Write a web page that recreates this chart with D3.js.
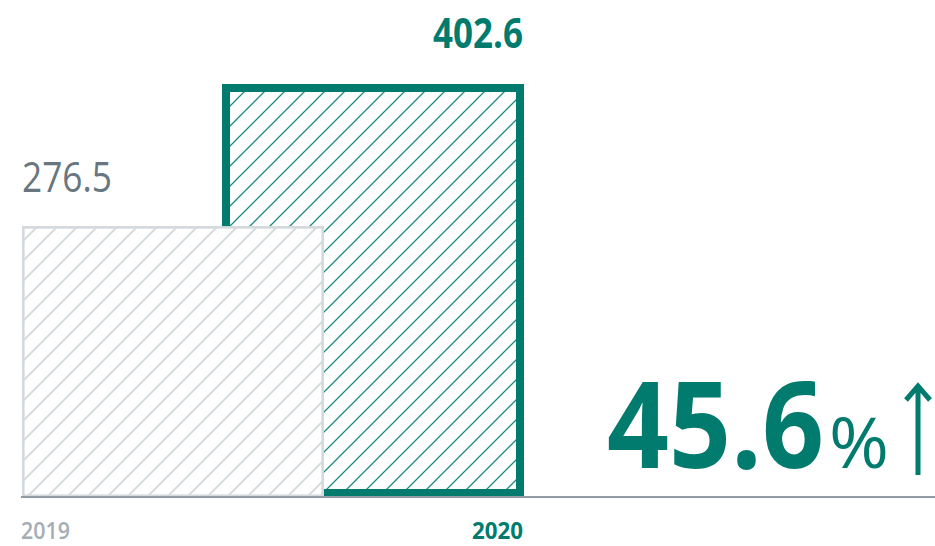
<!DOCTYPE html>
<html>
<head>
<meta charset="utf-8">
<script src="https://cdn.jsdelivr.net/npm/d3@7/dist/d3.min.js"></script>
<style>
  html, body { margin: 0; padding: 0; background: #ffffff; }
  svg { display: block; }
  text { font-family: "Open Sans", "Noto Sans", sans-serif; }
</style>
</head>
<body>
<svg id="chart" width="935" height="546"></svg>
<script>
// Revenue comparison, two years
const years = ["2019", "2020"];
const values = [276.5, 402.6];
const valueLabels = ["276.5", "402.6"];
const growthLabel = "45.6";
const growthUnit = "%";

const TEAL = "#007b6e";
const GREY_TEXT = "#68777f";
const GREY_YEAR = "#a4aeb4";
const GREY_BAR = "#d3d9dc";
const GREY_HATCH = "#d6dcdf";
const AXIS = "#8f9ca3";

const svg = d3.select("#chart");
const baseline = 497;
const barWidth = 302;

// Value axis (baseline offset, as in the printed figure)
const y = d3.scaleLinear().domain([36, 402.6]).range([baseline, 84]);
// Overlapping bars, left edges
const x = d3.scalePoint().domain(years).range([22, 222]);

const defs = svg.append("defs");
function hatch(id, color, width, shift) {
  const p = defs.append("pattern")
    .attr("id", id)
    .attr("patternUnits", "userSpaceOnUse")
    .attr("width", 20).attr("height", 20)
    .attr("patternTransform", `translate(${shift},0)`);
  p.append("path")
    .attr("d", "M-5,5 L5,-5 M0,20 L20,0 M15,25 L25,15")
    .attr("stroke", color)
    .attr("stroke-width", width)
    .attr("fill", "none");
}
hatch("hatch-2019", GREY_HATCH, 2, 4);
hatch("hatch-2020", "#1a8c7f", 1.3, 16);

const styles = {
  "2019": { stroke: GREY_BAR, sw: 2.6, fill: "url(#hatch-2019)" },
  "2020": { stroke: TEAL, sw: 8, fill: "url(#hatch-2020)" }
};

// draw 2020 first so the 2019 bar sits in front
const order = [1, 0];
const bars = svg.append("g");
order.forEach(i => {
  const yr = years[i];
  const s = styles[yr];
  const top = y(values[i]) + s.sw / 2;
  const left = x(yr) + s.sw / 2;
  const w = barWidth - s.sw;
  const h = baseline - s.sw / 2 - top;
  bars.append("rect")
    .attr("x", left).attr("y", top).attr("width", w).attr("height", h)
    .attr("fill", "#ffffff");
  bars.append("rect")
    .attr("x", left).attr("y", top).attr("width", w).attr("height", h)
    .attr("fill", s.fill)
    .attr("stroke", s.stroke)
    .attr("stroke-width", s.sw);
});

// baseline
svg.append("line")
  .attr("x1", 21).attr("x2", 935)
  .attr("y1", baseline).attr("y2", baseline)
  .attr("stroke", AXIS).attr("stroke-width", 2);

// Places a label so its left edge is at `left` and it spans `width` px,
// narrowing the glyphs horizontally (condensed face look).
function label(str, left, base, width, size, weight, color) {
  const g = svg.append("g");
  const t = g.append("text")
    .attr("x", 0).attr("y", 0)
    .attr("font-size", size).attr("font-weight", weight)
    .attr("fill", color)
    .text(str);
  const natural = t.node().getComputedTextLength();
  g.attr("transform", `translate(${left},${base}) scale(${width / natural},1)`);
  return t;
}

// value labels
label(valueLabels[0], x("2019"), y(values[0]) - 34, 90, 42, 400, GREY_TEXT);
label(valueLabels[1], x("2020") + barWidth - 91, y(values[1]) - 36, 90, 41, 700, TEAL);

// year labels
label(years[0], x("2019") - 1, 539, 49, 24, 600, GREY_YEAR);
label(years[1], x("2020") + barWidth - 52, 539, 51, 24, 700, TEAL);

// growth callout
label(growthLabel, 607, 468, 217, 120, 700, TEAL);
label(growthUnit, 829, 468, 60, 70, 400, TEAL);

// up arrow
svg.append("path")
  .attr("d", "M918,475 L918,386 M906,400 L918,386 L930,400")
  .attr("fill", "none")
  .attr("stroke", TEAL)
  .attr("stroke-width", 5)
  .attr("stroke-linecap", "butt")
  .attr("stroke-linejoin", "miter");
</script>
</body>
</html>
